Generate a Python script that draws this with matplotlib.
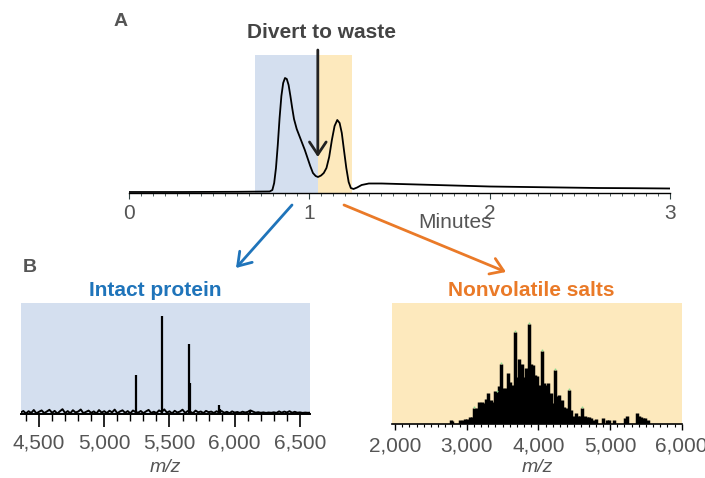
import numpy as np
import matplotlib
matplotlib.use("Agg")
import matplotlib.pyplot as plt
from matplotlib.ticker import MultipleLocator, FuncFormatter

plt.rcParams['font.family'] = ['Liberation Sans', 'DejaVu Sans']

# ---------------- data ----------------
# Panel A: chromatogram (minutes, intensity)
chrom_t = [0.00, 0.30, 0.60, 0.78, 0.795, 0.805, 0.815, 0.825, 0.835, 0.845, 0.855,
           0.865, 0.875, 0.885, 0.895, 0.905, 0.915, 0.930, 0.945, 0.960, 0.975,
           0.990, 1.005, 1.020, 1.035, 1.048, 1.065, 1.080, 1.095, 1.110, 1.125,
           1.140, 1.155, 1.168, 1.180, 1.192, 1.205, 1.218, 1.230, 1.245, 1.265,
           1.290, 1.330, 1.400, 1.600, 1.800, 2.000, 2.200, 2.400, 2.600, 2.800, 3.000]
chrom_i = [1.0, 1.0, 1.2, 1.5, 3, 10, 25, 48, 75, 97, 110,
           115, 114, 108, 97, 85, 74, 64, 57, 50, 43,
           35, 27, 20, 17, 16, 17.5, 20, 25, 36, 53,
           67, 73, 70, 60, 43, 25, 11, 5, 4, 5.5,
           8, 9.5, 9.5, 8.5, 7.5, 6.5, 6, 5.5, 5, 4.8, 4.5]
protein_window = (0.70, 1.047)
salt_window = (1.047, 1.235)
divert_time = 1.047
chrom_ticks = [0, 1, 2, 3]

# Panel B left: intact protein spectrum
noise_start, noise_step = 4360, 20
noise_vals = [1.5, 3.0, 0.5, 2.8, 1.0, 4.0, 0.6, 2.2, 3.6, 0.9, 2.5, 4.2, 1.2, 3.1, 0.4,
              2.7, 4.8, 1.0, 2.9, 0.7, 3.8, 1.5, 2.4, 4.5, 0.8, 2.1, 3.4, 1.1, 2.6, 0.5,
              3.9, 1.4, 2.8, 0.9, 3.3, 1.6, 4.4, 0.7, 2.5, 3.7, 1.2, 2.9, 0.6, 3.5, 2.0,
              1.3, 3.0, 0.8, 2.6, 4.1, 1.0, 2.3, 0.9, 3.6, 2.0, 4.6, 1.4, 2.7, 0.6, 3.2,
              1.5, 2.4, 4.3, 1.1, 3.0, 2.2, 0.8, 3.4, 1.7, 2.5, 0.9, 3.1, 1.8, 2.4, 1.0,
              2.7, 1.6, 2.9, 1.2, 2.2, 0.8, 2.6, 1.4, 2.0, 1.1, 2.3, 1.5, 2.1, 3.6, 2.4,
              1.3, 1.8, 1.2, 1.6, 1.1, 1.5, 1.2, 1.7, 1.1, 2.6, 1.3, 2.4, 1.5, 2.8, 1.2,
              2.2, 1.3, 1.6, 1.1, 1.4, 1.2, 1.3]
protein_mz = [5243, 5440, 5649, 5655, 5879, 5885, 6116]
protein_h = [39, 98, 70, 31, 9, 5, 4]
protein_ticks = [4500, 5000, 5500, 6000, 6500]

# Panel B right: nonvolatile salts spectrum
salt_mz = [2781, 2800, 2910, 2945, 2980, 3010, 3045, 3075, 3107, 3140, 3172, 3210, 3242,
           3270, 3302, 3335, 3363, 3395, 3428, 3451, 3479, 3511, 3544, 3572, 3605, 3637,
           3670, 3698, 3735, 3768, 3800, 3828, 3865, 3893, 3921, 3953, 3986, 4014, 4047,
           4079, 4107, 4139, 4172, 4205, 4237, 4265, 4293, 4326, 4358, 4391, 4428, 4456,
           4488, 4521, 4553, 4581, 4614, 4647, 4675, 4707, 4740, 4777, 4805, 4898, 4960,
           4990, 5060, 5210, 5240, 5372, 5400, 5430, 5460, 5490, 5535]
salt_h = [3.5, 2.5, 3.5, 3, 4.5, 4.5, 6, 6, 13, 13, 18.5, 18, 17,
          21, 26, 20, 18.5, 27, 26.5, 31, 50, 29.5, 29.5, 42, 35, 32,
          76, 39, 53.5, 50, 39, 46, 83, 50, 49, 40.5, 40, 32.5, 60,
          34, 32.5, 34, 25.5, 17.5, 45, 23, 24, 20, 14, 13, 28, 11.5,
          6.5, 9.5, 6.5, 6.5, 13.5, 6.5, 5.5, 5.5, 5, 3.5, 4.5, 5, 3.5,
          3.5, 3, 5, 7, 9, 7, 6, 5, 5, 3.5]
salt_labeled_mz = [3107, 3428, 3479, 3670, 3865, 4047, 4237, 4428, 4614]
salt_ticks = [2000, 3000, 4000, 5000, 6000]

# ---------------- styles ----------------
BLUE_BG = '#d4dfef'
YEL_BG = '#fde9bd'
BLUE = '#1f74ba'
ORANGE = '#ea7a28'
GRAY = '#555555'
DARK = '#444444'

W, H = 705, 478
fig = plt.figure(figsize=(W / 100, H / 100), dpi=100)

def fx(px):
    return px / W

def fy(py):
    return 1 - py / H

# ---------------- Panel A ----------------
axA = fig.add_axes([fx(129), fy(193), fx(670) - fx(129), fy(55) - fy(193)])
axA.set_xlim(0, 3)
axA.set_ylim(0, 138)
axA.axvspan(*protein_window, color=BLUE_BG, lw=0, zorder=0)
axA.axvspan(*salt_window, color=YEL_BG, lw=0, zorder=0)
axA.plot(chrom_t, chrom_i, color='black', lw=1.3, zorder=3)
for s in ['left', 'right', 'top']:
    axA.spines[s].set_visible(False)
axA.spines['bottom'].set_linewidth(1.0)
axA.set_yticks([])
axA.set_xticks(chrom_ticks)
axA.xaxis.set_minor_locator(MultipleLocator(1 / 15))
axA.tick_params(axis='x', which='major', length=4, width=0.8, color='#334444',
                labelsize=15, labelcolor=GRAY, pad=4)
axA.tick_params(axis='x', which='minor', length=2.5, width=0.6, color='#334444')
axA.set_xlabel('Minutes', fontsize=15, color=GRAY)
axA.xaxis.set_label_coords(0.603, (193 - 213) / 138)
axA.patch.set_alpha(0)

axA.annotate('', xy=(divert_time, 36), xytext=(divert_time, 143),
             xycoords='data', textcoords='data', annotation_clip=False,
             arrowprops=dict(arrowstyle='->,head_length=0.45,head_width=0.3',
                             lw=2, color='#222222', mutation_scale=20,
                             shrinkA=0, shrinkB=0))

fig.text(fx(321.5), fy(33), 'Divert to waste', ha='center', va='center',
         fontsize=15, fontweight='bold', color=DARK)
fig.text(fx(121), fy(22), 'A', ha='center', va='center', fontsize=14,
         fontweight='bold', color=GRAY)
fig.text(fx(30), fy(268), 'B', ha='center', va='center', fontsize=14,
         fontweight='bold', color=GRAY)

# connector arrows
fig.add_artist(matplotlib.patches.FancyArrowPatch(
    (fx(292), fy(205)), (fx(236), fy(268)), transform=fig.transFigure,
    arrowstyle='->,head_length=0.45,head_width=0.3', mutation_scale=20,
    lw=2, color=BLUE, shrinkA=0, shrinkB=0))
fig.add_artist(matplotlib.patches.FancyArrowPatch(
    (fx(344), fy(205)), (fx(506), fy(272)), transform=fig.transFigure,
    arrowstyle='->,head_length=0.45,head_width=0.3', mutation_scale=20,
    lw=2, color=ORANGE, shrinkA=0, shrinkB=0))

fmt = FuncFormatter(lambda v, p: f'{int(v):,}')

# ---------------- Panel B left ----------------
axL = fig.add_axes([fx(21), fy(414), fx(310) - fx(21), fy(303) - fy(414)])
axL.set_facecolor(BLUE_BG)
axL.set_xlim(4362, 6577)
axL.set_ylim(0, 111)
noise_mz = np.arange(len(noise_vals)) * noise_step + noise_start
axL.plot(noise_mz, noise_vals, color='black', lw=1.4, zorder=3)
axL.vlines(protein_mz, 0, protein_h, color='black', lw=1.6, zorder=4)
for s in ['left', 'right', 'top']:
    axL.spines[s].set_visible(False)
axL.spines['bottom'].set_linewidth(1.4)
axL.set_yticks([])
axL.set_xticks(protein_ticks)
axL.xaxis.set_major_formatter(fmt)
axL.xaxis.set_minor_locator(MultipleLocator(100))
axL.tick_params(axis='x', which='major', length=9, width=1.2, color='black',
                labelsize=15, labelcolor=GRAY, pad=5)
axL.tick_params(axis='x', which='minor', length=5, width=1.0, color='black')
axL.set_xlabel('m/z', fontsize=14, style='italic', color=GRAY)
axL.xaxis.set_label_coords(0.5, (414 - 459) / 111)
fig.text(fx(155), fy(290), 'Intact protein', ha='center', va='center',
         fontsize=15, fontweight='bold', color=BLUE)

# ---------------- Panel B right ----------------
axR = fig.add_axes([fx(392), fy(424), fx(682) - fx(392), fy(303) - fy(424)])
axR.set_facecolor(YEL_BG)
axR.set_xlim(1958, 6004)
axR.set_ylim(0, 100)
axR.vlines(salt_mz, 0, salt_h, color='black', lw=2.5, zorder=3)
lab_h = [salt_h[salt_mz.index(m)] for m in salt_labeled_mz]
axR.scatter(salt_labeled_mz, np.array(lab_h) + 0.8, s=2, color='#8fd88f',
            zorder=4, linewidths=0)
for s in ['left', 'right', 'top']:
    axR.spines[s].set_visible(False)
axR.spines['bottom'].set_linewidth(1.2)
axR.set_yticks([])
axR.set_xticks(salt_ticks)
axR.xaxis.set_major_formatter(fmt)
axR.xaxis.set_minor_locator(MultipleLocator(100))
axR.tick_params(axis='x', which='major', length=4, width=1.0, color='black',
                labelsize=15, labelcolor=GRAY, pad=5)
axR.tick_params(axis='x', which='minor', length=2.5, width=0.8, color='black')
axR.set_xlabel('m/z', fontsize=14, style='italic', color=GRAY)
axR.xaxis.set_label_coords(0.5, (424 - 459) / 121)
fig.text(fx(531), fy(290), 'Nonvolatile salts', ha='center', va='center',
         fontsize=15, fontweight='bold', color=ORANGE)

fig.savefig('out.png', dpi=100)
